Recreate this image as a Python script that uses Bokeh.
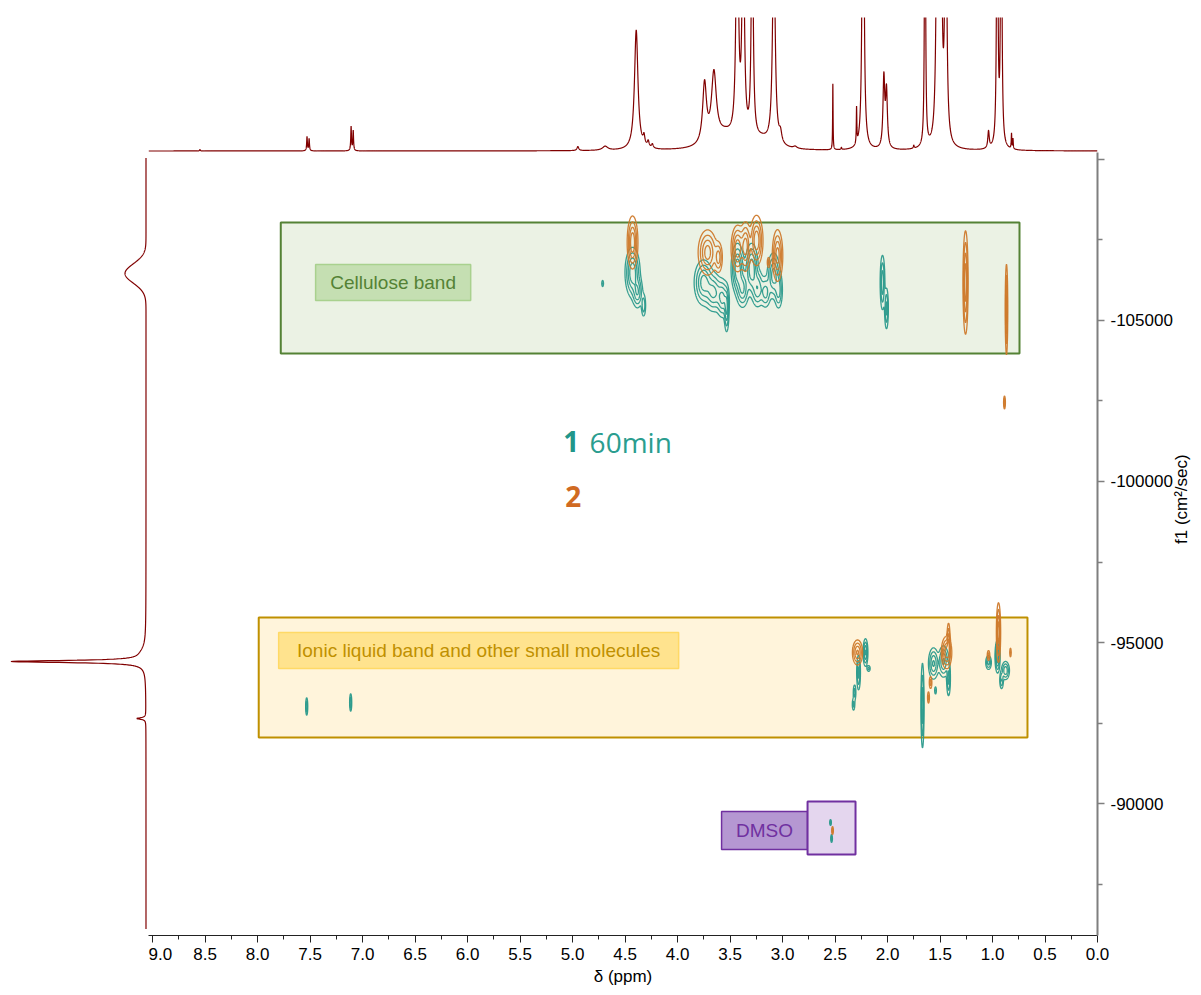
import math
import numpy as np
from bokeh.plotting import figure
from bokeh.layouts import column, row
from bokeh.models import Range1d, FixedTicker, PrintfTickFormatter, Label
from bokeh.embed import file_html
from bokeh.resources import INLINE

# ---------------- 1H spectrum (top trace): shift, height, half-width ----------------
H1_PPM = [8.55, 7.53, 7.51, 7.11, 7.09, 4.95, 4.69, 4.394, 4.32, 4.28, 4.24,
          3.743, 3.654, 3.55, 3.432, 3.375, 3.289, 3.20, 3.083, 3.02, 2.88,
          2.521, 2.44, 2.295, 2.233, 2.035, 2.01, 1.75, 1.643, 1.525, 1.49,
          1.445, 1.038, 0.955, 0.917, 0.819, 0.805]
H1_HEIGHT = [1.5, 14, 12, 24, 20, 4, 4, 120, 9, 6, 4,
             60, 68, 14, 280, 240, 255, 8, 220, 10, 2,
             66, 2, 36, 500, 70, 56, 3, 400, 400, 250,
             300, 17, 400, 400, 15, 10]
H1_HWHM = [0.004, 0.004, 0.004, 0.004, 0.004, 0.01, 0.03, 0.02, 0.01, 0.01, 0.01,
           0.022, 0.028, 0.12, 0.012, 0.012, 0.01, 0.1, 0.014, 0.015, 0.02,
           0.0025, 0.004, 0.003, 0.008, 0.01, 0.01, 0.005, 0.005, 0.01, 0.01,
           0.01, 0.008, 0.006, 0.006, 0.003, 0.003]

# ---------------- diffusion projection (left trace) ----------------
PROJ_D = [-106460, -94650, -94410, -92640]
PROJ_HEIGHT = [21, 4, 133, 9]
PROJ_WIDTH = [300, 250, 40, 30]
PROJ_GAUSSIAN = [True, False, False, False]

# ---------------- DOSY cross peaks: shift, diffusion, amplitude, widths ----------------
S1_PPM = [4.429, 4.381, 4.324, 4.714, 3.752, 3.657, 3.571, 3.533, 3.429, 3.381,
          3.295, 3.238, 3.162, 3.086, 3.038, 2.048, 2.010,
          2.210, 2.276, 2.314, 2.324, 2.180, 1.562, 1.467, 1.419, 1.667, 1.543,
          0.952, 1.038, 0.876, 0.914, 7.533, 7.114, 2.543, 2.533]
S1_D = [-106491, -105870, -105466, -106149, -106180, -105870, -105683, -105311, -106615, -105994,
        -106615, -105994, -105870, -106398, -105932, -106180, -105373,
        -94689, -94068, -93447, -93074, -94193, -94348, -94410, -93882, -93043, -93509,
        -94565, -94379, -94130, -93820, -93012, -93136, -89410, -88913]
S1_AMP = [1.0, 0.7, 0.45, 0.3, 0.9, 0.8, 0.8, 0.7, 1.0, 0.8,
          1.0, 0.7, 0.6, 0.9, 0.6, 0.7, 0.6,
          0.8, 0.6, 0.4, 0.35, 0.35, 0.8, 0.8, 0.6, 0.7, 0.3,
          1.0, 0.6, 0.7, 0.5, 0.5, 0.5, 0.4, 0.4]
S1_WPPM = [0.035, 0.025, 0.012, 0.006, 0.045, 0.04, 0.03, 0.012, 0.03, 0.03,
           0.03, 0.03, 0.025, 0.03, 0.02, 0.012, 0.01,
           0.012, 0.01, 0.008, 0.008, 0.01, 0.025, 0.025, 0.01, 0.008, 0.006,
           0.012, 0.015, 0.02, 0.01, 0.006, 0.006, 0.005, 0.005]
S1_WD = [380, 250, 200, 70, 350, 300, 300, 350, 380, 300,
         380, 300, 250, 350, 300, 450, 350,
         220, 300, 150, 120, 60, 250, 250, 300, 700, 80,
         250, 120, 150, 150, 160, 160, 60, 80]

S2_PPM = [4.429, 3.714, 3.610, 3.429, 3.352, 3.248, 3.048, 3.133, 1.257, 0.867, 0.886,
          2.286, 1.438, 1.419, 1.590, 1.610, 0.943, 1.038, 0.829, 2.524]
S2_D = [-107422, -107112, -106957, -107236, -107298, -107485, -107019, -106801, -106180, -105342, -102453,
        -94689, -94689, -95062, -93757, -93292, -95310, -94596, -94689, -89161]
S2_AMP = [1.0, 0.9, 0.6, 1.0, 0.9, 1.0, 0.9, 0.4, 1.0, 0.9, 0.5,
          0.8, 0.9, 0.6, 0.4, 0.35, 1.0, 0.4, 0.3, 0.4]
S2_WPPM = [0.025, 0.045, 0.02, 0.03, 0.025, 0.03, 0.025, 0.008, 0.012, 0.006, 0.005,
           0.025, 0.025, 0.008, 0.008, 0.006, 0.01, 0.008, 0.005, 0.005]
S2_WD = [400, 350, 250, 350, 380, 380, 400, 100, 780, 700, 120,
         200, 250, 300, 120, 120, 450, 100, 100, 80]

CONTOUR_LEVELS = [0.12, 0.28, 0.5, 0.75]

# ---------------- band boxes ----------------
BAND_LEFT = [7.78, 7.99]
BAND_RIGHT = [0.743, 0.667]
BAND_TOP = [-108040, -95780]
BAND_BOTTOM = [-103975, -92050]
BAND_FILL = ["#EBF2E4", "#FFF4DB"]
BAND_LINE = ["#548235", "#BF9000"]

TAG_LEFT = [7.448, 7.80, 3.581]
TAG_RIGHT = [5.971, 3.99, 2.762]
TAG_TOP = [-106739, -95311, -89752]
TAG_BOTTOM = [-105621, -94193, -88571]
TAG_FILL = ["#C5DFB2", "#FFE38E", "#B597D2"]
TAG_LINE = ["#A9D18E", "#FFD966", "#7030A0"]
TAG_TEXT = ["Cellulose band", "Ionic liquid band and other small molecules", "DMSO"]
TAG_TEXT_COLOR = ["#548235", "#BF9000", "#7030A0"]

DMSO_BOX = dict(left=[2.762], right=[2.305], top=[-90062], bottom=[-88416])

TEAL = "#2B9A8C"
ORANGE = "#CF7A2C"
SPEC = "#800000"
FONT = "Liberation Sans"

X_RANGE = (9.04, 0.0)
Y_RANGE = (-85901, -110217)

# ---------------- main DOSY panel ----------------
main = figure(frame_width=949, frame_height=783,
              x_range=Range1d(*X_RANGE), y_range=Range1d(*Y_RANGE),
              x_axis_location="below", y_axis_location="right",
              toolbar_location=None, output_backend="svg",
              min_border_left=0, min_border_top=0, min_border_right=104, min_border_bottom=60,
              outline_line_color=None, background_fill_color="white")
main.grid.visible = False

main.quad(left=BAND_LEFT, right=BAND_RIGHT, top=BAND_TOP, bottom=BAND_BOTTOM,
          fill_color=BAND_FILL, line_color=BAND_LINE, line_width=2)
main.quad(left=TAG_LEFT, right=TAG_RIGHT, top=TAG_TOP, bottom=TAG_BOTTOM,
          fill_color=TAG_FILL, line_color=TAG_LINE, line_width=1.5)
main.quad(fill_color="#E4D6EE", line_color="#7030A0", line_width=2, **DMSO_BOX)

for i, txt in enumerate(TAG_TEXT):
    main.add_layout(Label(x=(TAG_LEFT[i] + TAG_RIGHT[i]) / 2, y=(TAG_TOP[i] + TAG_BOTTOM[i]) / 2,
                          text=txt, text_align="center", text_baseline="middle",
                          text_font=FONT, text_font_size="19px", text_color=TAG_TEXT_COLOR[i]))


def peak_field(ppm, dc, amp, wx, wy, xs, ys):
    z = np.zeros((len(ys), len(xs)))
    for x0, y0, a, sx, sy in zip(ppm, dc, amp, wx, wy):
        ix = np.abs(xs - x0) < 5 * sx
        iy = np.abs(ys - y0) < 5 * sy
        if not ix.any() or not iy.any():
            continue
        gx = np.exp(-0.5 * ((xs[ix] - x0) / sx) ** 2)
        gy = np.exp(-0.5 * ((ys[iy] - y0) / sy) ** 2)
        z[np.ix_(iy, ix)] += a * np.outer(gy, gx)
    return z


GRIDS = [(np.arange(0.6, 4.9, 0.003), np.arange(-109500, -87800, 20.0)),
         (np.arange(6.9, 7.8, 0.002), np.arange(-94200, -91900, 10.0))]

for (ppm, dc, amp, wx, wy, col) in [(S1_PPM, S1_D, S1_AMP, S1_WPPM, S1_WD, TEAL),
                                    (S2_PPM, S2_D, S2_AMP, S2_WPPM, S2_WD, ORANGE)]:
    for xs, ys in GRIDS:
        z = peak_field(ppm, dc, amp, wx, wy, xs, ys)
        if z.max() <= CONTOUR_LEVELS[0]:
            continue
        main.contour(xs, ys, z, CONTOUR_LEVELS, line_color=col, line_width=1.3, line_alpha=0.95)

# sample legend
main.add_layout(Label(x=5.09, y=-101240, text="1", text_font="Open Sans", text_font_style="bold",
                      text_font_size="28px", text_color="#21968A", text_baseline="alphabetic"))
main.add_layout(Label(x=4.838, y=-101240, text="60min", text_font="Open Sans",
                      text_font_size="28px", text_color="#2A9D8F", text_baseline="alphabetic"))
main.add_layout(Label(x=5.07, y=-99540, text="2", text_font="Open Sans", text_font_style="bold",
                      text_font_size="28px", text_color="#D06A22", text_baseline="alphabetic"))

# axes
xa = main.xaxis[0]
xa.ticker = FixedTicker(ticks=[i * 0.5 for i in range(19)],
                        minor_ticks=[0.25 + i * 0.5 for i in range(18)])
xa.formatter = PrintfTickFormatter(format="%.1f")
xa.axis_label = "δ (ppm)"
xa.axis_line_color = "#222222"
xa.major_tick_line_color = "#222222"
xa.minor_tick_line_color = "#222222"
xa.major_tick_out = 7
xa.major_tick_in = 0
xa.minor_tick_out = 4
xa.minor_tick_in = 0
xa.major_label_text_font = FONT
xa.major_label_text_font_size = "17px"
xa.major_label_text_color = "#000000"
xa.axis_label_text_font = FONT
xa.axis_label_text_font_size = "17px"
xa.axis_label_text_font_style = "normal"
xa.axis_label_text_color = "#000000"
xa.axis_label_standoff = 4

ya = main.yaxis[0]
ya.ticker = FixedTicker(ticks=[-110000, -105000, -100000, -95000, -90000],
                        minor_ticks=[-107500, -102500, -97500, -92500, -87500])
ya.formatter = PrintfTickFormatter(format="%d")
ya.major_label_overrides = {-110000: ""}
ya.axis_label = "f1 (cm²/sec)"
ya.axis_label_orientation = math.pi / 2
ya.axis_line_color = "#7F7F7F"
ya.axis_line_width = 2
ya.major_tick_line_color = "#7F7F7F"
ya.minor_tick_line_color = "#7F7F7F"
ya.major_tick_line_width = 1.5
ya.minor_tick_line_width = 1.5
ya.major_tick_out = 7
ya.major_tick_in = 0
ya.minor_tick_out = 5
ya.minor_tick_in = 0
ya.major_label_standoff = 6
ya.major_label_text_font = FONT
ya.major_label_text_font_size = "17px"
ya.major_label_text_color = "#000000"
ya.axis_label_text_font = FONT
ya.axis_label_text_font_size = "17px"
ya.axis_label_text_font_style = "normal"
ya.axis_label_text_color = "#000000"
ya.axis_label_standoff = 6

# ---------------- top 1H trace ----------------
top = figure(frame_width=949, frame_height=135, x_range=main.x_range, y_range=Range1d(-1.5, 133.5),
             x_axis_location=None, y_axis_location=None, toolbar_location=None, output_backend="svg",
             min_border_left=148, min_border_right=104, min_border_top=17, min_border_bottom=0,
             outline_line_color=None)
top.grid.visible = False
shift = np.arange(0.0, 9.04, 0.0005)
intensity = np.zeros_like(shift)
for c, h, w in zip(H1_PPM, H1_HEIGHT, H1_HWHM):
    intensity += h / (1.0 + ((shift - c) / w) ** 2)
top.line(shift, intensity, line_color=SPEC, line_width=1.2)

# ---------------- left diffusion projection ----------------
left = figure(frame_width=148, frame_height=783, x_range=Range1d(145.5, -2.5), y_range=main.y_range,
              x_axis_location=None, y_axis_location=None, toolbar_location=None, output_backend="svg",
              min_border_left=0, min_border_right=0, min_border_top=0, min_border_bottom=60,
              outline_line_color=None)
left.grid.visible = False
dgrid = np.arange(-110050, -86100, 5.0)
proj = np.zeros_like(dgrid)
for c, h, w, g in zip(PROJ_D, PROJ_HEIGHT, PROJ_WIDTH, PROJ_GAUSSIAN):
    if g:
        proj += h * np.exp(-0.5 * ((dgrid - c) / w) ** 2)
    else:
        proj += h / (1.0 + ((dgrid - c) / w) ** 2)
left.line(proj, dgrid, line_color=SPEC, line_width=1.2)

layout = column(top, row(left, main))
open("out.html", "w").write(file_html(layout, INLINE))
